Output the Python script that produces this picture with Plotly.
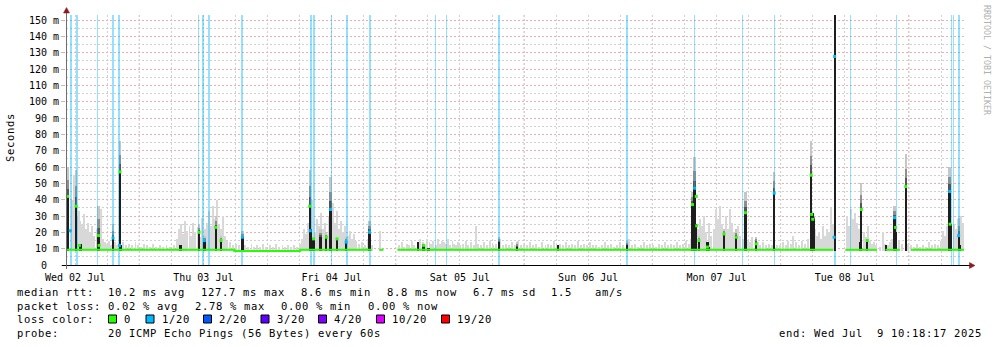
import plotly.graph_objects as go

# ---------------- data (hours since Wed 02 Jul 00:00, values in milliseconds) -------------
day_labels = ["Wed 02 Jul", "Thu 03 Jul", "Fri 04 Jul", "Sat 05 Jul", "Sun 06 Jul", "Mon 07 Jul", "Tue 08 Jul"]
day_label_hours = [12, 36, 60, 84, 108, 132, 156]
midnight_hours = [24, 48, 72, 96, 120, 144, 168]
y_ticks = [0, 10, 20, 30, 40, 50, 60, 70, 80, 90, 100, 110, 120, 130, 140, 150]

# light smoke columns (time, top of spread)
smoke_t = [11.5, 11.8, 12.4, 12.8, 13.0, 13.3, 13.7, 14.1, 14.5, 14.8, 15.2, 15.6, 16.0, 16.5, 16.9, 17.3,
           17.6, 18.0, 18.4, 18.8, 19.5, 19.9, 21.0, 21.6, 22.1, 22.7, 23.3, 23.8,
           24.4, 24.9, 25.5, 26.1, 26.6, 27.2, 27.9, 28.5, 29.1, 29.8, 30.5, 31.1, 31.5, 31.9, 32.2, 32.6,
           33.0, 33.4, 33.7, 34.1, 34.5, 34.9, 35.4, 35.8, 36.3, 36.7, 37.1, 37.5, 37.8, 38.2, 38.6, 39.0,
           39.3, 39.7, 40.1, 40.5, 41.0, 41.6, 42.1, 42.7, 43.3, 43.8, 44.4, 45.0, 45.5, 46.1, 46.6, 47.2, 47.8,
           48.5, 49.1, 49.6, 50.2, 50.8, 51.3, 51.9, 52.4, 53.0, 53.6, 54.1, 54.5, 54.9, 55.2, 55.6, 56.0,
           56.4, 56.9, 57.3, 57.7, 58.0, 58.4, 58.8, 59.2, 59.5, 59.9, 60.3, 60.7, 61.0, 61.4, 61.8, 62.2,
           62.5, 63.1, 63.5, 63.8, 64.2, 64.6, 65.2, 65.7, 66.3, 66.8, 67.6, 69.1,
           72.6, 73.2, 73.6, 74.1, 74.5, 75.1, 75.4, 76.2, 76.6, 77.1, 77.5, 77.9, 78.3, 78.6, 79.0, 79.6,
           79.9, 80.3, 80.7, 81.1, 81.4, 81.8, 82.2, 82.6, 82.9, 83.3, 83.7, 84.0, 84.6, 85.2, 85.5, 86.1,
           86.7, 87.0, 87.4, 88.0, 88.5, 89.1, 89.7, 90.2, 90.8, 91.5, 92.1, 92.7, 93.2, 93.8, 94.3, 94.9,
           95.5, 96.0, 96.6, 97.1, 97.7, 98.3, 98.8, 99.4, 100.0, 100.5, 101.1, 101.6, 102.2, 102.8, 103.3,
           103.9, 104.4, 105.0, 105.6, 106.1, 106.7, 107.2, 107.8, 108.4, 108.9, 109.5, 110.1, 110.6, 111.2,
           111.7, 112.3, 112.9, 113.4, 114.0, 114.5, 115.7, 116.2, 116.8, 117.3, 117.9, 118.5, 119.0, 119.6,
           120.2, 120.7, 121.3, 121.8, 122.4, 123.0, 123.5, 124.1, 124.6, 125.2, 125.8, 126.3, 126.9, 127.3,
           128.6, 128.9, 129.3, 129.7, 130.1, 130.6, 131.0, 131.6, 131.9, 132.3, 132.7, 133.1, 133.8, 134.2,
           134.6, 134.9, 135.3, 136.1, 136.4, 137.0, 137.9, 138.3, 138.7, 139.8, 140.2, 140.7, 141.3, 141.9,
           142.4, 143.3, 143.9, 144.5, 145.0, 145.4, 146.0, 146.3, 146.9, 147.5, 148.0, 148.6, 149.1, 150.5,
           150.8, 151.2, 151.6, 152.0, 152.3, 152.7, 153.1, 153.4, 153.8, 156.4, 156.8, 157.2, 157.6, 157.9,
           158.3, 158.7, 159.6, 160.0, 160.4, 160.7, 161.1, 161.5, 161.9, 162.6, 163.2, 163.5, 164.1, 164.5,
           164.9, 166.2, 166.7, 167.9, 168.4, 169.0, 169.5, 170.1, 170.7, 171.2, 171.8, 172.3, 172.9, 173.5,
           174.0, 174.4, 174.8, 175.1, 175.7, 176.5, 176.8, 177.2, 177.8, 178.1]
smoke_hi = [40, 55, 30, 33, 27, 25, 31, 22, 26, 20, 24, 18, 22, 17, 34, 16,
            14, 13, 15, 12, 14, 12, 14, 12, 13, 12, 14, 12,
            11, 13, 12, 11, 13, 11, 12, 11, 12, 11, 12, 16, 22, 25, 19, 27,
            21, 24, 18, 26, 20, 23, 17, 29, 22, 26, 33, 24, 36, 28, 40, 25,
            22, 30, 18, 15, 14, 12, 13, 12, 21, 12, 11, 13, 11, 12, 11, 13, 11,
            12, 11, 13, 11, 12, 11, 12, 11, 12, 11, 13, 16, 22, 19, 26, 30,
            40, 20, 28, 24, 32, 22, 26, 19, 30, 36, 38, 26, 33, 22, 27, 20,
            24, 18, 21, 16, 19, 15, 13, 14, 12, 16, 12, 21,
            12, 14, 11, 13, 12, 15, 12, 13, 16, 14, 12, 16, 14, 13, 15, 12,
            16, 13, 15, 14, 13, 16, 12, 15, 13, 12, 14, 12, 13, 15, 12, 14,
            12, 24, 13, 12, 14, 12, 15, 12, 13, 16, 12, 13, 12, 14, 12, 15,
            12, 13, 12, 14, 12, 13, 11, 14, 12, 13, 12, 15, 12, 13, 12,
            14, 12, 13, 12, 15, 12, 13, 12, 14, 12, 12, 11, 12, 14,
            12, 13, 11, 12, 14, 12, 16, 12, 13, 11, 12, 14, 12, 13,
            12, 11, 13, 12, 14, 12, 13, 12, 14, 12, 13, 15, 13, 16,
            22, 28, 24, 30, 20, 26, 18, 22, 34, 28, 36, 25, 30, 22,
            34, 26, 20, 24, 18, 16, 15, 14, 17, 14, 12, 14, 12, 13,
            12, 12, 12, 14, 12, 15, 13, 18, 14, 12, 15, 13, 16, 22,
            18, 20, 16, 24, 18, 22, 20, 35, 25, 30, 24, 34, 28, 32,
            26, 22, 20, 17, 24, 15, 13, 14, 12, 11, 20, 13, 12, 14,
            16, 15, 13, 13, 12, 11, 13, 11, 12, 11, 14, 12, 13, 12,
            15, 21, 18, 24, 20, 25, 22, 28, 30, 26]

# dark smoke spikes: time, top of dense part, top of fading part
dark_t = [10.6, 12.2, 13.0, 16.4, 19.1, 20.4, 20.6, 31.7, 35.2, 36.2, 38.3, 39.3, 43.3, 55.9, 56.2, 56.6,
          57.9, 59.0, 59.8, 61.0, 62.7, 67.1, 76.1, 77.2, 78.1, 91.3, 94.7, 102.3, 115.2, 127.5, 127.9,
          128.2, 128.7, 130.3, 130.6, 133.4, 135.7, 137.4, 139.4, 142.8, 149.7, 150.0, 150.3, 154.1, 158.9,
          159.1, 160.2, 163.7, 165.3, 165.6, 167.4, 175.6, 175.9, 177.3, 177.6]
dark_hi = [42, 36, 13, 18, 16, 57, 12, 12, 20, 15, 23, 15, 17, 36, 22, 16,
           17, 17, 34, 16, 14, 20, 14, 13, 10.5, 14, 11, 12, 12, 37, 47,
           25, 15, 14, 11, 19, 17, 32, 14, 44, 56, 32, 28, 155, 14,
           34, 15, 12, 29, 20, 48, 46, 25, 18, 12]
fade_hi = [60, 58, 13, 36, 25, 76, 12, 12, 25, 18, 30, 18, 21, 58, 22, 16,
           22, 20, 54, 16, 17, 27, 14, 13, 10.5, 17, 14, 12, 15, 45, 66,
           25, 18, 14, 11, 22, 22, 45, 17, 57, 76, 32, 30, 155, 14,
           50, 15, 12, 36, 20, 68, 60, 25, 29, 12]

# median line (loss 0) between gaps
base_t = [10.3, 41.8, 54.1, 67.5, None, 68.9, 69.7, None, 72.3, 153.8, None, 156.1, 162.0, None,
          163.6, 166.3, None, 168.4, 178.3]
base_v = [9.3, 8.6, 9.3, 9.3, None, 9.3, 9.3, None, 9.3, 9.3, None, 9.3, 9.3, None,
          9.3, 9.3, None, 9.3, 9.3]

# median values during spikes, with loss level (0 = 0/20, 1 = 1/20)
med_t = [10.6, 11.1, 12.2, 12.8, 16.4, 16.5, 19.1, 20.3, 20.4, 35.2, 36.2, 38.3, 39.3, 43.3, 55.9, 56.0,
         56.6, 59.0, 59.8, 61.0, 62.7, 67.1, 77.2, 127.5, 127.9, 128.2, 128.3, 128.7, 130.3, 133.4,
         135.7, 137.4, 139.4, 142.8, 149.7, 149.8, 150.0, 154.1, 154.0, 159.1, 160.2, 165.3, 165.5,
         167.4, 175.6, 175.7, 177.3]
med_v = [42, 21, 36, 12, 18, 12, 16.5, 12, 57, 20, 15, 23, 15, 17, 36, 21,
         16, 17, 34, 16, 14, 20, 12, 37, 47, 42, 24, 15, 11, 19,
         17, 32, 13, 44, 55, 31, 28, 127.7, 17, 34, 15, 29, 23,
         48, 45, 25, 18]
med_loss = [0, 1, 0, 0, 0, 0, 1, 1, 0, 0, 1, 0, 0, 1, 0, 1,
            0, 0, 1, 0, 1, 1, 0, 0, 1, 0, 0, 0, 0, 0,
            0, 0, 0, 1, 0, 0, 0, 1, 1, 0, 0, 1, 0,
            0, 1, 0, 1]

# loss events (time, duration in hours)
loss_t = [11.2, 12.3, 16.2, 19.1, 20.3, 35.0, 36.0, 37.1, 43.2, 56.1, 56.7, 60.0, 62.9, 67.1, 79.4, 81.4,
          91.3, 115.3, 127.9, 136.9, 142.8, 154.2, 157.1, 165.6, 176.0, 176.4, 177.4]
loss_dur = [0.37, 0.37, 0.19, 0.37, 0.37, 0.19, 0.37, 0.37, 0.37, 0.28, 0.37, 0.19, 0.37, 0.37, 0.19, 0.19,
            0.37, 0.37, 0.19, 0.19, 0.19, 0.37, 0.19, 0.19, 0.19, 0.19, 0.37]

loss_labels = ["0", "1/20", "2/20", "3/20", "4/20", "10/20", "19/20"]
loss_colors = ["#26ff00", "#00b8ff", "#0059ff", "#5e00ff", "#7e00ff", "#dd00ff", "#ff0000"]

stats_rtt = ["10.2 ms avg", "127.7 ms max", "8.6 ms min", "8.8 ms now", "6.7 ms sd", "1.5", "am/s"]
stats_loss = ["0.02 % avg", "2.78 % max", "0.00 % min", "0.00 % now"]

# ---------------- layout geometry ----------------
W, H = 997, 347
PL, PR, PT, PB = 66, 964, 15, 265
X0, X1 = 10.3, 178.3
YMAX = 153.1
MONO = "DejaVu Sans Mono"


def fx(px):
    return (px - PL) / (PR - PL)


def fy(py):
    return (PB - py) / (PB - PT)


def spaced(t, ls=0.68):
    return '<span style="letter-spacing:%spx">%s</span>' % (ls, t.replace(" ", "\u00a0"))


fig = go.Figure()

SMOKE_BASE = 8.5
fig.add_trace(go.Bar(x=smoke_t, y=[h - SMOKE_BASE for h in smoke_hi], base=SMOKE_BASE, width=0.36,
                     marker=dict(color="#d8d8d8", line=dict(width=0)), hoverinfo="skip"))

# fading parts of dark spikes (three tones)
for frac, col in [(1.0, "#c6c6c6"), (0.55, "#8e8e8e"), (0.25, "#555555")]:
    fig.add_trace(go.Bar(x=dark_t, y=[(f - d) * frac for d, f in zip(dark_hi, fade_hi)], base=dark_hi,
                         width=0.42, marker=dict(color=col, line=dict(width=0)), hoverinfo="skip"))

fig.add_trace(go.Scatter(x=base_t, y=base_v, mode="lines", line=dict(color=loss_colors[0], width=2, shape="hv"),
                         connectgaps=False, hoverinfo="skip"))

fig.add_trace(go.Bar(x=loss_t, y=[YMAX] * len(loss_t), base=0, width=loss_dur,
                     marker=dict(color="rgba(0,184,255,0.42)", line=dict(width=0)), hoverinfo="skip"))

fig.add_trace(go.Bar(x=dark_t, y=[h - 8.3 for h in dark_hi], base=8.3, width=0.42,
                     marker=dict(color="#1e1e1e", line=dict(width=0)), hoverinfo="skip"))

fig.add_trace(go.Scatter(x=med_t, y=med_v, mode="markers",
                         marker=dict(symbol="square", size=3, color=[loss_colors[l] for l in med_loss],
                                     line=dict(width=0)), hoverinfo="skip"))

shapes = []
for h in midnight_hours:
    shapes.append(dict(type="line", xref="x", yref="paper", x0=h, x1=h, y0=0, y1=1, layer="below",
                       line=dict(color="#eab0b0", width=1, dash="2px,2px")))
# axes lines
shapes.append(dict(type="line", xref="paper", yref="paper", x0=fx(62), x1=fx(970), y0=fy(265.5), y1=fy(265.5),
                   line=dict(color="#000000", width=1)))
shapes.append(dict(type="line", xref="paper", yref="paper", x0=fx(66.5), x1=fx(66.5), y0=fy(269), y1=fy(11),
                   line=dict(color="#6e6e6e", width=1)))
# arrows
arrow = "#8b1a1a"
shapes.append(dict(type="path", xref="paper", yref="paper",
                   path="M %f %f L %f %f L %f %f Z" % (fx(66.5), fy(7.5), fx(63.5), fy(13), fx(69.5), fy(13)),
                   fillcolor=arrow, line=dict(color=arrow, width=0.5)))
shapes.append(dict(type="path", xref="paper", yref="paper",
                   path="M %f %f L %f %f L %f %f Z" % (fx(975), fy(265.5), fx(969.5), fy(262.5), fx(969.5), fy(268.5)),
                   fillcolor=arrow, line=dict(color=arrow, width=0.5)))

annotations = []


def txt(s, x, y, size=10.5, ls=0.68, color="#000000", angle=0, xanchor="left"):
    annotations.append(dict(text=spaced(s, ls), x=fx(x), y=fy(y), xref="paper", yref="paper", showarrow=False,
                            xanchor=xanchor, yanchor="middle", textangle=angle, borderpad=0,
                            font=dict(family=MONO, size=size, color=color)))


L1, L2, L3, L4 = 291.5, 305.5, 319.2, 333.2
txt("median rtt:", 16, L1)
for s, x in zip(stats_rtt, [107.3, 200.1, 299.9, 385.7, 471.5, 550.3, 593.8]):
    txt(s, x, L1)
txt("packet loss:", 16, L2)
for s, x in zip(stats_loss, [107.3, 193.8, 280.3, 366.7]):
    txt(s, x, L2)
txt("loss color:", 16, L3)
box_x = [108.5, 146, 203.5, 261, 318.5, 376.5, 441.5]
for lab, col, bx in zip(loss_labels, loss_colors, box_x):
    shapes.append(dict(type="rect", xref="paper", yref="paper", x0=fx(bx), x1=fx(bx + 8), y0=fy(323), y1=fy(315),
                       fillcolor=col, line=dict(color="#000000", width=1)))
    txt(lab, bx + 14.5, L3)
txt("probe:", 16, L4)
txt("20 ICMP Echo Pings (56 Bytes) every 60s", 107.3, L4)
txt("end: Wed Jul  9 10:18:17 2025", 778, L4)

txt("Seconds", 10, 138, angle=-90, xanchor="center")
txt("RRDTOOL / TOBI OETIKER", 987, 60, size=8.3, ls=0, color="#b0b0b0", angle=90, xanchor="center")

fig.update_layout(
    width=W, height=H, autosize=False,
    margin=dict(l=PL, r=W - PR, t=PT, b=H - PB, pad=0),
    paper_bgcolor="#ffffff", plot_bgcolor="#ffffff",
    barmode="overlay", bargap=0, showlegend=False, hovermode=False,
    shapes=shapes, annotations=annotations,
    xaxis=dict(range=[X0, X1], tickvals=day_label_hours, ticktext=day_labels, showgrid=False, zeroline=False,
               showline=False, ticks="", ticklabelstandoff=5, tickfont=dict(family=MONO, size=10, color="#000000"),
               minor=dict(tick0=0, dtick=6, showgrid=True, gridcolor="#d0d0d0", griddash="2px,2px", gridwidth=1,
                          ticks=""),
               fixedrange=True),
    yaxis=dict(range=[0, YMAX], tickvals=y_ticks,
               ticktext=[("%d m" % v) if v else "0\u00a0\u00a0" for v in y_ticks],
               showgrid=True, gridcolor="#eab0b0", griddash="2px,2px", gridwidth=1, zeroline=False,
               showline=False, ticks="outside", ticklen=4, tickcolor="#e0b0b0",
               tickfont=dict(family=MONO, size=10, color="#000000"),
               minor=dict(dtick=5, showgrid=True, gridcolor="#d0d0d0", griddash="2px,2px", gridwidth=1, ticks=""),
               fixedrange=True),
)

fig.write_html("out.html", config={"displayModeBar": False, "staticPlot": True})
